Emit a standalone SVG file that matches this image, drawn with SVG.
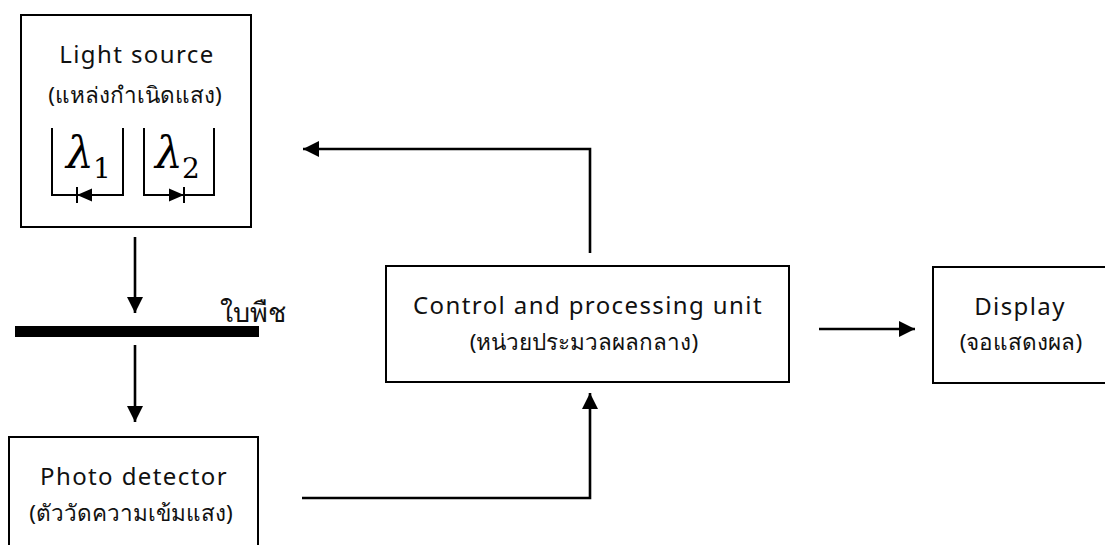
<svg xmlns="http://www.w3.org/2000/svg" width="1105" height="545" viewBox="0 0 1105 545">
<style>
.box{fill:#fff;stroke:#000;stroke-width:2}
.ln{fill:none;stroke:#000;stroke-width:2.6}
.br{fill:none;stroke:#000;stroke-width:2}
.en{font-family:"Noto Sans","Open Sans","DejaVu Sans",sans-serif;font-size:24px;letter-spacing:1.4px;fill:#111;text-anchor:middle}
.th{font-family:"Noto Sans","DejaVu Sans",sans-serif;font-size:22.5px;fill:#111;text-anchor:middle}
.lam{font-family:"DejaVu Serif","Liberation Serif",serif;font-style:italic;font-size:44px;fill:#000}
.sub{font-family:"DejaVu Serif","Liberation Serif",serif;font-size:28px;fill:#000}
</style>
<defs>
<marker id="ah" viewBox="0 0 10 10" refX="10" refY="5" markerWidth="6.2" markerHeight="6.2" markerUnits="strokeWidth" orient="auto">
<path d="M0,0 L10,5 L0,10 z" fill="#000"/>
</marker>
</defs>
<rect width="1105" height="545" fill="#fff"/>
<g id="light-source">
<rect class="box" x="21" y="15" width="230" height="212"/>
<text class="en" x="137" y="63">Light source</text>
<text class="th" x="135" y="103">(แหล่งกำเนิดแสง)</text>
<polyline class="br" points="52,128 52,195 123,195 123,128"/>
<polyline class="br" points="144,128 144,195 214,195 214,128"/>
<path d="M77,195 L92,188.5 L92,201.5 z" fill="#000"/>
<line x1="77" y1="187" x2="77" y2="203" stroke="#000" stroke-width="2"/>
<path d="M184,195 L169,188.5 L169,201.5 z" fill="#000"/>
<line x1="184" y1="187" x2="184" y2="203" stroke="#000" stroke-width="2"/>
<text class="lam" x="66" y="168">λ</text>
<text class="sub" x="93" y="178">1</text>
<text class="lam" x="155" y="168">λ</text>
<text class="sub" x="182" y="178">2</text>
</g>
<g id="leaf">
<rect x="15" y="326" width="244" height="11" fill="#000"/>
<text x="253" y="322" font-family="Noto Sans, DejaVu Sans, sans-serif" font-size="27" fill="#111" text-anchor="middle">ใบพืช</text>
</g>
<g id="photo-detector">
<rect class="box" x="9" y="437" width="249" height="130"/>
<text class="en" x="134" y="485">Photo detector</text>
<text class="th" x="131" y="521">(ตัววัดความเข้มแสง)</text>
</g>
<g id="control-unit">
<rect class="box" x="386" y="266" width="403" height="116"/>
<text class="en" x="588" y="314">Control and processing unit</text>
<text class="th" x="584" y="350">(หน่วยประมวลผลกลาง)</text>
</g>
<g id="display">
<rect class="box" x="933" y="267" width="200" height="116"/>
<text class="en" x="1020" y="315">Display</text>
<text class="th" x="1021" y="350">(จอแสดงผล)</text>
</g>
<g id="connectors">
<line class="ln" x1="135" y1="237" x2="135" y2="313" marker-end="url(#ah)"/>
<line class="ln" x1="135" y1="345" x2="135" y2="422" marker-end="url(#ah)"/>
<polyline class="ln" points="302,498 590,498 590,393" marker-end="url(#ah)"/>
<polyline class="ln" points="590,253 590,149 303,149" marker-end="url(#ah)"/>
<line class="ln" x1="819" y1="329" x2="915" y2="329" marker-end="url(#ah)"/>
</g>
</svg>
